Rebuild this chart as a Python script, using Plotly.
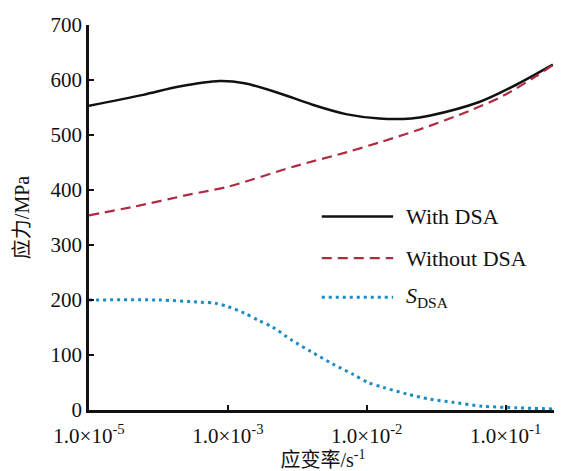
import plotly.graph_objects as go

# x positions are evenly spaced category slots (0..3) labelled with strain rates
tick_pos = [0, 1, 2, 3]
tick_labels = ["1.0×10<sup>-5</sup>", "1.0×10<sup>-3</sup>", "1.0×10<sup>-2</sup>", "1.0×10<sup>-1</sup>"]

with_x = [0.0, 0.39, 0.65, 0.94, 1.12, 1.37, 1.61, 1.85, 2.09, 2.32, 2.45, 2.81, 3.05, 3.34]
with_y = [553, 573, 588, 598, 594, 576, 555, 538, 530, 530, 535, 560, 588, 628]

without_x = [0.0, 0.33, 0.71, 1.0, 1.48, 1.86, 2.11, 2.38, 2.74, 2.98, 3.22, 3.34]
without_y = [354, 370, 391, 406, 443, 469, 488, 510, 544, 571, 607, 627]

s_x = [0.0, 0.5, 0.8, 0.91, 1.0, 1.12, 1.22, 1.32, 1.46, 1.60, 1.76, 1.90, 2.01, 2.12, 2.29, 2.45, 2.62, 2.83, 3.08, 3.34]
s_y = [200, 200, 196, 194, 188, 176, 163, 151, 127, 106, 83, 65, 50, 41, 29, 20, 14, 7, 4, 2]

FONT = "Liberation Serif, Times New Roman, Noto Sans CJK SC, serif"
BLACK = "#111111"
RED = "#b02a42"
BLUE = "#1a8cc4"

fig = go.Figure()
fig.add_trace(go.Scatter(x=with_x, y=with_y, mode="lines", name="With DSA",
                         line=dict(color=BLACK, width=2.5, shape="spline", smoothing=0.9)))
fig.add_trace(go.Scatter(x=without_x, y=without_y, mode="lines", name="Without DSA",
                         line=dict(color=RED, width=2.2, dash="10px,6px", shape="spline", smoothing=0.8)))
fig.add_trace(go.Scatter(x=s_x, y=s_y, mode="lines", name="S_DSA",
                         line=dict(color=BLUE, width=3, dash="3px,4px", shape="spline", smoothing=0.8)))

# custom legend (long line samples like the reference)
leg_x0, leg_x1, leg_tx = 1.676, 2.19, 2.27
leg_rows = [(352, dict(color=BLACK, width=2.5), "With DSA"),
            (276, dict(color=RED, width=2.2, dash="10px,6px"), "Without DSA"),
            (205, dict(color=BLUE, width=3, dash="3px,4px"), "<i>S</i><sub>DSA</sub>")]
for yy, ln, txt in leg_rows:
    fig.add_shape(type="line", x0=leg_x0, x1=leg_x1, y0=yy, y1=yy, xref="x", yref="y", line=ln)
    fig.add_annotation(x=leg_tx, y=yy, xref="x", yref="y", text=txt, showarrow=False,
                       xanchor="left", yanchor="middle", font=dict(family=FONT, size=22, color="#111"))

# page body has an 8px margin, so the figure is sized/offset to compensate
fig.update_layout(
    width=554, height=463,
    margin=dict(l=81, r=5, t=13, b=60),
    paper_bgcolor="white", plot_bgcolor="white",
    showlegend=False,
    font=dict(family=FONT, size=21, color="#111"),
)
fig.update_xaxes(range=[0, 3.37], tickvals=tick_pos, ticktext=tick_labels,
                 showgrid=False, zeroline=False, showline=True, linecolor=BLACK, linewidth=2.5,
                 ticks="inside", ticklen=5, tickwidth=2, tickcolor=BLACK,
                 ticklabelstandoff=5,
                 tickfont=dict(family=FONT, size=21),
                 title=dict(text="应变率/s<sup>-1</sup>", font=dict(family=FONT, size=20), standoff=4))
fig.update_yaxes(range=[0, 700], dtick=100,
                 showgrid=False, zeroline=False, showline=True, linecolor=BLACK, linewidth=2.5,
                 ticks="inside", ticklen=5, tickwidth=2, tickcolor=BLACK,
                 tickfont=dict(family=FONT, size=21),
                 title=dict(text="应力/MPa", font=dict(family=FONT, size=20), standoff=16))

fig.write_html("out.html")
